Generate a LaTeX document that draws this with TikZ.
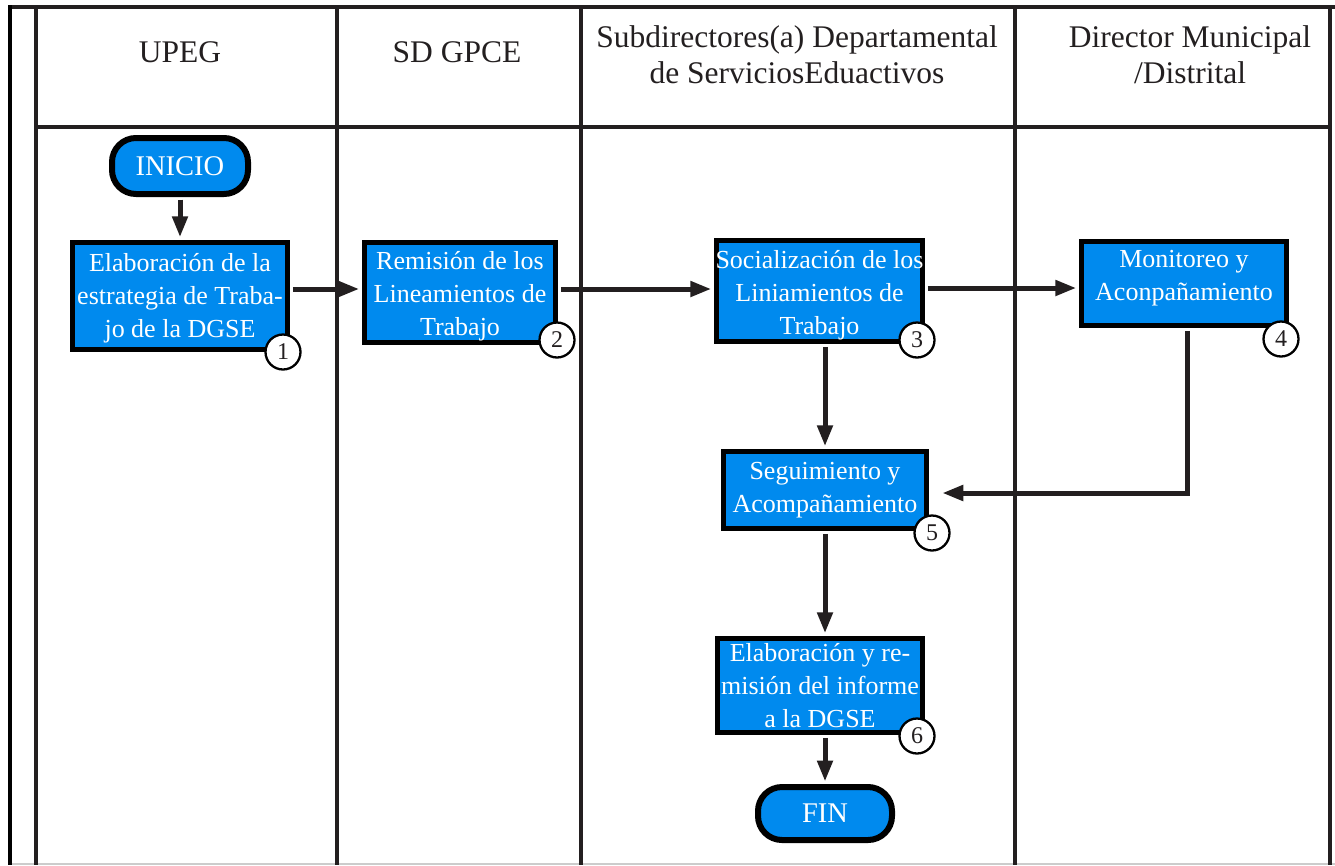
\documentclass[tikz,border=0pt]{standalone}
\usepackage{fontspec}
\setmainfont{Liberation Serif}
\usetikzlibrary{arrows.meta}
\definecolor{boxblue}{RGB}{0,138,238}
\definecolor{ink}{RGB}{35,31,32}
\begin{document}
\begin{tikzpicture}[x=1pt,y=-1pt,
  frame/.style={draw=ink,line width=4.5pt},
  head/.style={text=ink,font=\fontsize{31.5}{36}\selectfont,align=center,inner sep=0pt},
  proc/.style={draw=black,line width=5.5pt,fill=boxblue,inner sep=0pt},
  ptext/.style={text=white,font=\fontsize{26}{33}\selectfont,align=center,inner sep=0pt},
  term/.style={proc,rounded corners=24pt,line width=6pt,text=white,font=\fontsize{28.5}{32}\selectfont},
  num/.style={circle,draw=black,line width=2.3pt,fill=white,minimum size=35pt,
    inner sep=0pt,font=\fontsize{24}{24}\selectfont,text=ink},
  conn/.style={draw=ink,line width=5pt,-{Triangle[length=21pt,width=15pt]},
    shorten >=2.5pt,shorten <=2.5pt}
]
\useasboundingbox (0,0) rectangle (1335,865);
% frame
\draw[gray!40,line width=1.5pt] (10,864) -- (1335,864);
\draw[frame] (8,7) -- (1335,7);
\draw[frame,draw=black,line width=4pt] (9.5,5) -- (9.5,865);
\draw[frame] (36,7) -- (36,865);
\draw[frame] (337,7) -- (337,865);
\draw[frame] (581,7) -- (581,865);
\draw[frame] (1015,7) -- (1015,865);
\draw[frame] (1330,7) -- (1330,865);
\draw[frame] (36,127) -- (1330,127);
% headers
\node[head,anchor=base] (hUpeg) at (180,62) {UPEG};
\node[head,anchor=base] (hSd) at (457,62) {SD GPCE};
\node[head] (hSub) at (797,55) {Subdirectores(a) Departamental\\de ServiciosEduactivos};
\node[head] (hDir) at (1190,55) {Director Municipal\\/Distrital};
% boxes
\node[term,minimum width=136pt,minimum height=56pt] (ini) at (180,166) {INICIO};
\node[proc,minimum width=215pt,minimum height=107pt] (b1) at (180,296) {};
\node[proc,minimum width=191pt,minimum height=100pt] (b2) at (460,292.5) {};
\node[proc,minimum width=206pt,minimum height=101pt] (b3) at (819.5,291) {};
\node[proc,minimum width=205pt,minimum height=84pt] (b4) at (1184,283.5) {};
\node[proc,minimum width=203pt,minimum height=77pt] (b5) at (825,490) {};
\node[proc,minimum width=205pt,minimum height=94pt] (b6) at (820,685.5) {};
\node[term,minimum width=134pt,minimum height=53pt] (fin) at (825,813.5) {FIN};
% box texts
\node[ptext] (t1) at (180,298.5) {Elaboración de la\\estrategia de Traba-\\jo de la DGSE};
\node[ptext] (t2) at (460,296) {Remisión de los\\Lineamientos de\\Trabajo};
\node[ptext] (t3) at (819.5,295) {Socialización de los\\Liniamientos de\\Trabajo};
\node[ptext] (t4) at (1184,278.5) {Monitoreo y\\Aconpañamiento};
\node[ptext] (t5) at (825,490) {Seguimiento y\\Acompañamiento};
\node[ptext] (t6) at (820,686) {Elaboración y re-\\misión del informe\\a la DGSE};
% connectors
\coordinate (r1) at (0,289);
\coordinate (r2) at (0,288);
\coordinate (vcol) at (825,0);
\coordinate (k) at (1187,493);
\draw[conn] (ini.south) -- (b1.north);
\draw[conn] (b1.east|-r1) -- (b2.west|-r1);
\draw[conn] (b2.east|-r1) -- (b3.west|-r1);
\draw[conn] (b3.east|-r2) -- (b4.west|-r2);
\draw[conn] (b3.south-|vcol) -- (b5.north-|vcol);
\draw[conn] (b5.south-|vcol) -- (b6.north-|vcol);
\draw[conn] (b6.south-|vcol) -- (fin.north-|vcol);
\draw[conn,shorten >=13pt] (b4.south-|k) |- (b5.east|-k);
% step numbers
\node[num] (c1) at (283,352) {1};
\node[num] (c2) at (557,340) {2};
\node[num] (c3) at (917,340) {3};
\node[num] (c4) at (1281,339) {4};
\node[num] (c5) at (932,533) {5};
\node[num] (c6) at (917,736) {6};
\end{tikzpicture}
\end{document}
